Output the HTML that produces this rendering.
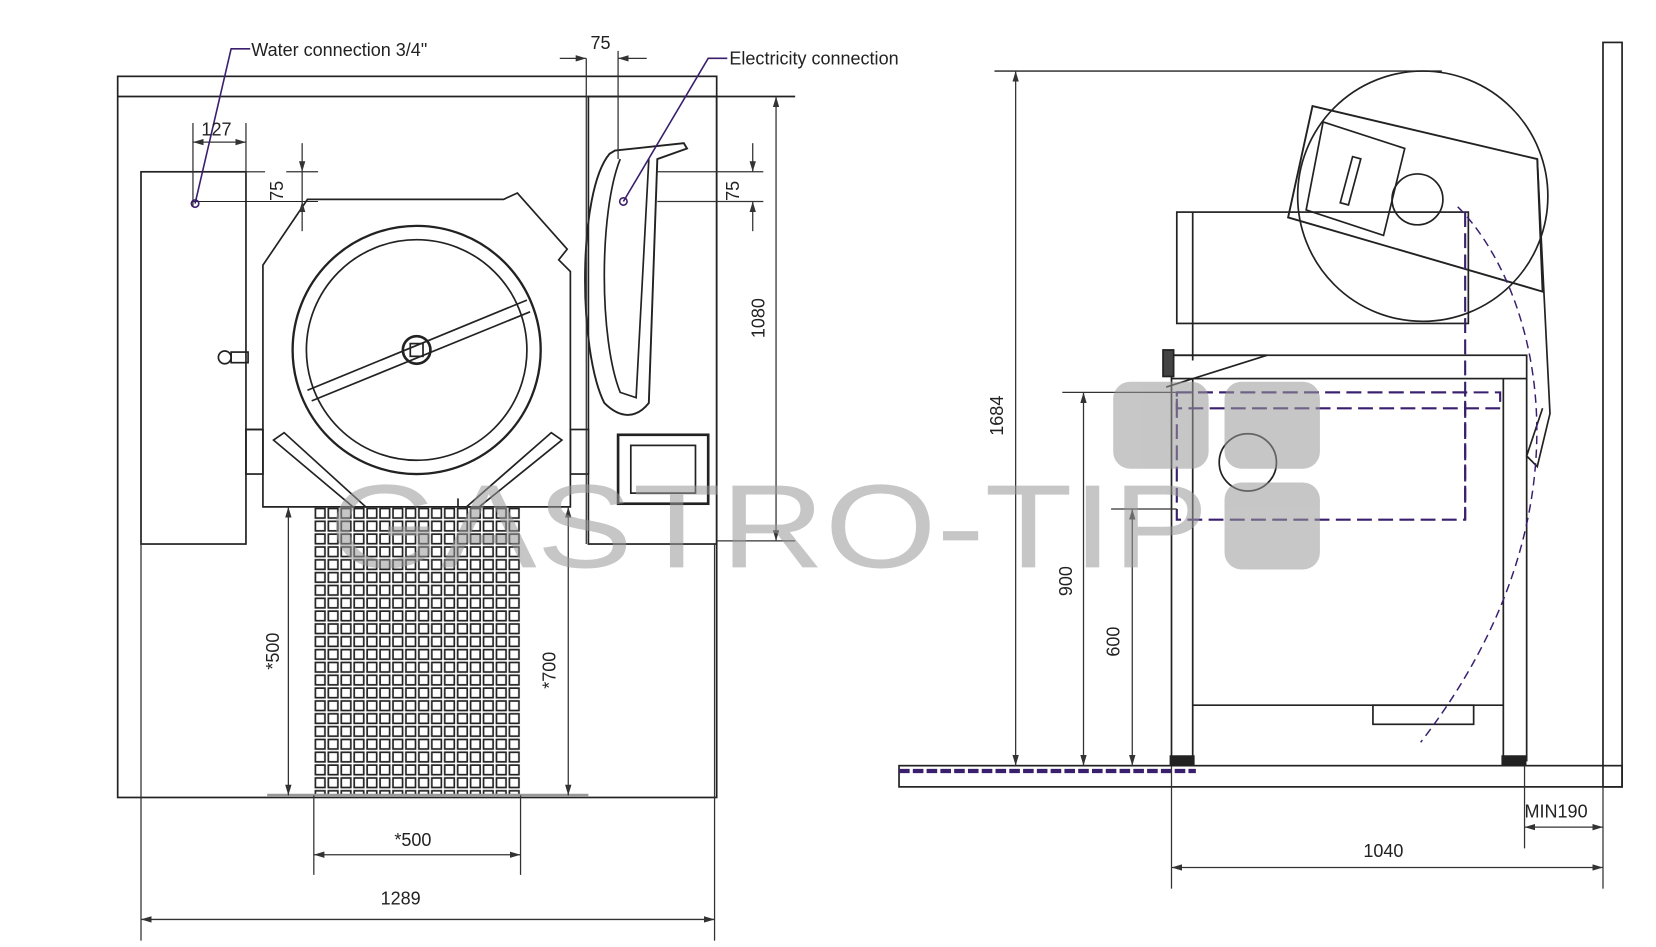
<!DOCTYPE html>
<html><head><meta charset="utf-8"><style>
html,body{margin:0;padding:0;background:#fff;}
svg{display:block;}
text{font-family:"Liberation Sans",sans-serif;}
</style></head><body>
<svg width="1656" height="947" viewBox="0 0 1562 893" preserveAspectRatio="none" xmlns="http://www.w3.org/2000/svg">
<defs>
<pattern id="grid" x="296" y="478" width="12.2" height="12.1" patternUnits="userSpaceOnUse">
<rect x="1.5" y="1.5" width="9" height="9" fill="none" stroke="#222" stroke-width="1.6"/>
</pattern>
<marker id="a" markerWidth="10" markerHeight="6" refX="10" refY="3" orient="auto-start-reverse" markerUnits="userSpaceOnUse"><path d="M0,0 L10,3 L0,6z" fill="#333"/></marker>
</defs>
<g fill="none" stroke="#222" stroke-width="1.6">
<!-- LEFT VIEW -->
<rect x="111" y="72" width="565" height="680"/>
<line x1="111" y1="91" x2="750" y2="91"/>
<rect x="133" y="162" width="99" height="351"/>
<line x1="133" y1="162" x2="250" y2="162" stroke-width="1"/>
<line x1="182" y1="190" x2="300" y2="190" stroke-width="1"/>
<circle cx="212" cy="337" r="6"/><rect x="218" y="332" width="16" height="10"/>
<path d="M248,250 L290,188 L475,188 L488,182 L535,235 L527,245 L538,256 L538,478 L248,478 Z"/>
<line x1="248" y1="405" x2="232" y2="405"/><rect x="232" y="405" width="16" height="42"/>
<rect x="538" y="405" width="17" height="42"/>
<circle cx="393" cy="330" r="117" stroke-width="2.2"/>
<circle cx="393" cy="330" r="104"/>
<path d="M290,368 L497,283 M294,378 L500,294"/>
<circle cx="393" cy="330" r="13" stroke-width="2.5"/><rect x="387" y="324" width="12" height="12"/>
<path d="M258,415 L268,408 L345,478 L333,478Z M530,415 L520,408 L440,478 L452,478Z"/>
<rect x="296" y="478" width="195" height="272" fill="url(#grid)" stroke="none"/>
<line x1="252" y1="750" x2="555" y2="750" stroke-width="3" stroke="#999"/>
<rect x="555" y="91" width="121" height="422"/>
<path d="M575,145 C545,180 545,330 570,380 C585,395 600,395 612,380 L620,150 L648,140 L645,135 L580,142 Z" stroke-width="1.8"/>
<path d="M585,150 C565,200 565,320 585,370 L600,375 L612,150"/>
<rect x="583" y="410" width="85" height="65" stroke-width="2.5"/>
<rect x="595" y="420" width="61" height="45"/>
<line x1="432" y1="478" x2="432" y2="470"/>
</g>
<!-- left dimensions -->
<g stroke="#333" stroke-width="1.2" fill="none">
<line x1="272" y1="478" x2="272" y2="750" marker-start="url(#a)" marker-end="url(#a)"/>
<line x1="536" y1="478" x2="536" y2="750" marker-start="url(#a)" marker-end="url(#a)"/>
<line x1="296" y1="750" x2="296" y2="825"/><line x1="491" y1="750" x2="491" y2="825"/>
<line x1="296" y1="806" x2="491" y2="806" marker-start="url(#a)" marker-end="url(#a)"/>
<line x1="133" y1="513" x2="133" y2="887"/><line x1="674" y1="513" x2="674" y2="887"/>
<line x1="133" y1="867" x2="674" y2="867" marker-start="url(#a)" marker-end="url(#a)"/>
<line x1="182" y1="116" x2="182" y2="195"/><line x1="232" y1="116" x2="232" y2="165"/>
<line x1="182" y1="134" x2="232" y2="134" marker-start="url(#a)" marker-end="url(#a)"/>
<line x1="285" y1="135" x2="285" y2="162" marker-end="url(#a)"/><line x1="285" y1="218" x2="285" y2="190" marker-end="url(#a)"/>
<line x1="285" y1="162" x2="285" y2="190"/>
<line x1="270" y1="162" x2="300" y2="162"/>
<line x1="553" y1="55" x2="553" y2="513"/><line x1="583" y1="48" x2="583" y2="150"/>
<line x1="528" y1="55" x2="553" y2="55" marker-end="url(#a)"/><line x1="610" y1="55" x2="583" y2="55" marker-end="url(#a)"/>
<line x1="620" y1="162" x2="720" y2="162"/><line x1="620" y1="190" x2="720" y2="190"/>
<line x1="710" y1="135" x2="710" y2="162" marker-end="url(#a)"/><line x1="710" y1="218" x2="710" y2="190" marker-end="url(#a)"/>
<line x1="732" y1="91" x2="732" y2="510" marker-start="url(#a)" marker-end="url(#a)"/>
<line x1="676" y1="510" x2="750" y2="510"/>
</g>
<g stroke="#3a1f6e" stroke-width="1.5" fill="none">
<path d="M236,46 L218,46 L184,192"/><circle cx="184" cy="192" r="3.5"/>
<path d="M686,55 L668,55 L588,190"/><circle cx="588" cy="190" r="3.5"/>
</g>
<!-- RIGHT VIEW -->
<g fill="none" stroke="#222" stroke-width="1.6">
<rect x="1512" y="40" width="18" height="702"/>
<rect x="848" y="722" width="682" height="20"/>
<line x1="848" y1="727" x2="1128" y2="727" stroke="#3a1f6e" stroke-width="4" stroke-dasharray="10 3"/>
<line x1="938" y1="67" x2="1360" y2="67" stroke-width="1.2"/>
<circle cx="1342" cy="185" r="118"/>
<path d="M1238,100 L1450,150 L1455,275 L1438,270 L1215,205 Z" stroke-width="1.8"/>
<path d="M1248,115 L1325,140 L1305,222 L1232,198 Z"/>
<rect x="1270" y="148" width="8" height="45" transform="rotate(15 1274 170)"/>
<circle cx="1337" cy="188" r="24"/>
<path d="M1450,150 L1462,390 L1450,440 L1440,430 L1455,385"/>
<rect x="1110" y="200" width="275" height="105"/>
<line x1="1125" y1="200" x2="1125" y2="340"/>
<rect x="1105" y="335" width="335" height="22"/>
<path d="M1105,335 L1195,335 L1100,365" />
<line x1="1105" y1="357" x2="1105" y2="718"/><line x1="1125" y1="357" x2="1125" y2="718"/>
<line x1="1418" y1="357" x2="1418" y2="718"/><line x1="1440" y1="357" x2="1440" y2="718"/>
<line x1="1125" y1="665" x2="1418" y2="665"/><rect x="1295" y="665" width="95" height="18"/>
<rect x="1104" y="713" width="22" height="8" fill="#222"/><rect x="1417" y="713" width="22" height="8" fill="#222"/>
<circle cx="1177" cy="436" r="27"/>
<rect x="1097" y="330" width="10" height="25" fill="#444"/>
</g>
<g fill="none" stroke="#3a1f6e" stroke-width="2" stroke-dasharray="14 6">
<rect x="1110" y="370" width="272" height="120"/>
<rect x="1110" y="370" width="305" height="15"/>
<line x1="1382" y1="200" x2="1382" y2="490"/>
<path d="M1375,195 C1450,270 1510,480 1340,700" stroke-width="1.4" stroke-dasharray="8 5"/>
</g>
<g stroke="#333" stroke-width="1.2" fill="none">
<line x1="958" y1="67" x2="958" y2="722" marker-start="url(#a)" marker-end="url(#a)"/>
<line x1="1002" y1="370" x2="1110" y2="370"/>
<line x1="1022" y1="370" x2="1022" y2="722" marker-start="url(#a)" marker-end="url(#a)"/>
<line x1="1048" y1="480" x2="1110" y2="480"/>
<line x1="1068" y1="480" x2="1068" y2="722" marker-start="url(#a)" marker-end="url(#a)"/>
<line x1="1105" y1="722" x2="1105" y2="838"/><line x1="1512" y1="742" x2="1512" y2="838"/>
<line x1="1105" y1="818" x2="1512" y2="818" marker-start="url(#a)" marker-end="url(#a)"/>
<line x1="1438" y1="722" x2="1438" y2="800"/>
<line x1="1438" y1="780" x2="1512" y2="780" marker-start="url(#a)" marker-end="url(#a)"/>
</g>
<!-- watermark -->
<g fill="#999" opacity="0.55">
<rect x="1050" y="360" width="90" height="82" rx="16"/><rect x="1155" y="360" width="90" height="82" rx="16"/>
<rect x="1155" y="455" width="90" height="82" rx="16"/>
</g>
<text x="310" y="535" font-size="112" fill="#999" opacity="0.55" textLength="830" lengthAdjust="spacingAndGlyphs">GASTRO-TIP</text>
<!-- labels -->
<g font-size="17" fill="#222">
<text x="237" y="53">Water connection 3/4"</text>
<text x="688" y="61">Electricity connection</text>
<text x="557" y="46">75</text>
<text x="190" y="128">127</text>
<text x="372" y="798">*500</text>
<text x="359" y="853">1289</text>
<text x="1286" y="808">1040</text>
<text x="1438" y="771">MIN190</text>
<text transform="translate(267,180) rotate(-90)" text-anchor="middle">75</text>
<text transform="translate(697,180) rotate(-90)" text-anchor="middle">75</text>
<text transform="translate(721,300) rotate(-90)" text-anchor="middle">1080</text>
<text transform="translate(263,614) rotate(-90)" text-anchor="middle">*500</text>
<text transform="translate(524,632) rotate(-90)" text-anchor="middle">*700</text>
<text transform="translate(946,392) rotate(-90)" text-anchor="middle">1684</text>
<text transform="translate(1011,548) rotate(-90)" text-anchor="middle">900</text>
<text transform="translate(1056,605) rotate(-90)" text-anchor="middle">600</text>
</g>
</svg>
</body></html>
